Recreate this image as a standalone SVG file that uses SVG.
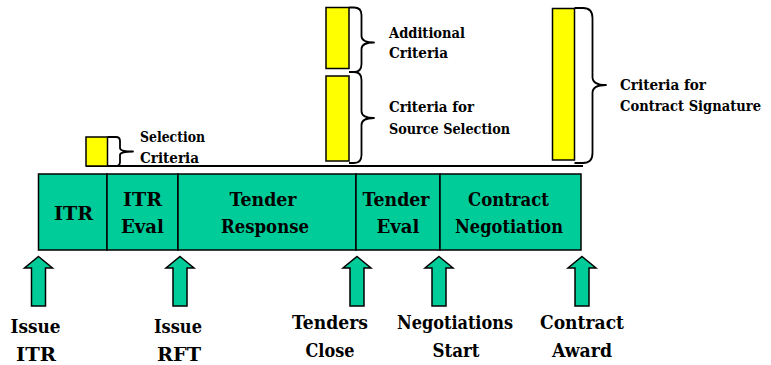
<svg xmlns="http://www.w3.org/2000/svg" width="771" height="365" viewBox="0 0 771 365">
  <style>
    .phase { fill: #00CC99; stroke: #000; stroke-width: 1.5; }
    .crit { fill: #FFFF00; stroke: #000; stroke-width: 1.5; }
    .brace { fill: none; stroke: #000; stroke-width: 1.8; stroke-linejoin: round; }
    .base { stroke: #000; stroke-width: 1.8; }
    .arrow { fill: #00CC99; stroke: #000; stroke-width: 1.5; stroke-linejoin: miter; }
    text { font-family: "DejaVu Serif", "Liberation Serif", serif; font-weight: bold; fill: #000; }
    .big { font-size: 19px; text-anchor: middle; }
    .small { font-size: 15px; }
  </style>

  <!-- baseline under the criteria bars -->
  <line class="base" x1="86" y1="166" x2="583" y2="166"/>

  <!-- criteria bars with braces -->
  <g id="selection-criteria">
    <rect class="crit" x="86" y="137" width="21.5" height="29"/>
    <path class="brace" d="M107.5,137 L116,137 Q120,137 120,141 L120,148 Q120,151.5 133,151.5 Q120,151.5 120,155 L120,162 Q120,166 116,166 L107.5,166"/>
    <text class="small" x="140" y="142" textLength="65" lengthAdjust="spacingAndGlyphs">Selection</text>
    <text class="small" x="140" y="163" textLength="59" lengthAdjust="spacingAndGlyphs">Criteria</text>
  </g>

  <g id="additional-criteria">
    <rect class="crit" x="326" y="7.5" width="23" height="61"/>
    <path class="brace" d="M349,7.5 L354,7.5 Q361.5,7.5 361.5,15 L361.5,36 Q361.5,42.5 374,42.5 Q361.5,42.5 361.5,49 L361.5,64 Q361.5,72 354,72 L349,72"/>
    <text class="small" x="389" y="38" textLength="76" lengthAdjust="spacingAndGlyphs">Additional</text>
    <text class="small" x="389" y="58" textLength="59" lengthAdjust="spacingAndGlyphs">Criteria</text>
  </g>

  <g id="source-selection-criteria">
    <rect class="crit" x="326" y="76" width="23" height="85"/>
    <path class="brace" d="M349,72 L354,72 Q361.5,72 361.5,80 L361.5,111 Q361.5,118 374,118 Q361.5,118 361.5,125 L361.5,155 Q361.5,163 354,163 L349,163"/>
    <text class="small" x="389" y="112" textLength="85" lengthAdjust="spacingAndGlyphs">Criteria for</text>
    <text class="small" x="389" y="133.5" textLength="121" lengthAdjust="spacingAndGlyphs">Source Selection</text>
  </g>

  <g id="contract-signature-criteria">
    <rect class="crit" x="552.5" y="8.5" width="22" height="151.5"/>
    <path class="brace" d="M574.5,8 L583,8 Q592.5,8 592.5,18 L592.5,77 Q592.5,85 606,85 Q592.5,85 592.5,93 L592.5,153 Q592.5,163 583,163 L574.5,163"/>
    <text class="small" x="620" y="90" textLength="86" lengthAdjust="spacingAndGlyphs">Criteria for</text>
    <text class="small" x="620" y="110.5" textLength="141" lengthAdjust="spacingAndGlyphs">Contract Signature</text>
  </g>

  <!-- procurement phases -->
  <g id="phase-itr">
    <rect class="phase" x="38.5" y="174" width="68.5" height="76"/>
    <text class="big" x="73.5" y="220" textLength="39" lengthAdjust="spacingAndGlyphs">ITR</text>
  </g>
  <g id="phase-itr-eval">
    <rect class="phase" x="107" y="174" width="71" height="76"/>
    <text class="big" x="142.5" y="206" textLength="39" lengthAdjust="spacingAndGlyphs">ITR</text>
    <text class="big" x="142.5" y="233" textLength="43" lengthAdjust="spacingAndGlyphs">Eval</text>
  </g>
  <g id="phase-tender-response">
    <rect class="phase" x="178" y="174" width="178" height="76"/>
    <text class="big" x="263" y="206" textLength="67" lengthAdjust="spacingAndGlyphs">Tender</text>
    <text class="big" x="265" y="233" textLength="88" lengthAdjust="spacingAndGlyphs">Response</text>
  </g>
  <g id="phase-tender-eval">
    <rect class="phase" x="356" y="174" width="84" height="76"/>
    <text class="big" x="396" y="206" textLength="67" lengthAdjust="spacingAndGlyphs">Tender</text>
    <text class="big" x="398" y="233" textLength="43" lengthAdjust="spacingAndGlyphs">Eval</text>
  </g>
  <g id="phase-contract-negotiation">
    <rect class="phase" x="440" y="174" width="141" height="76"/>
    <text class="big" x="508.5" y="206" textLength="81" lengthAdjust="spacingAndGlyphs">Contract</text>
    <text class="big" x="509" y="233" textLength="108" lengthAdjust="spacingAndGlyphs">Negotiation</text>
  </g>

  <!-- milestone arrows -->
  <g id="milestones">
    <g id="issue-itr">
      <polygon class="arrow" points="38.5,256.5 52.5,268 45.5,268 45.5,306 31.5,306 31.5,268 24.5,268"/>
      <text class="big" x="35.5" y="333" textLength="50" lengthAdjust="spacingAndGlyphs">Issue</text>
      <text class="big" x="36" y="361" textLength="40" lengthAdjust="spacingAndGlyphs">ITR</text>
    </g>
    <g id="issue-rft">
      <polygon class="arrow" points="180,256.5 194,268 187,268 187,306 173,306 173,268 166,268"/>
      <text class="big" x="178" y="333" textLength="48" lengthAdjust="spacingAndGlyphs">Issue</text>
      <text class="big" x="179" y="361" textLength="44" lengthAdjust="spacingAndGlyphs">RFT</text>
    </g>
    <g id="tenders-close">
      <polygon class="arrow" points="357,256.5 371,268 364,268 364,306 350,306 350,268 343,268"/>
      <text class="big" x="330" y="328.5" textLength="76" lengthAdjust="spacingAndGlyphs">Tenders</text>
      <text class="big" x="330" y="356.5" textLength="49" lengthAdjust="spacingAndGlyphs">Close</text>
    </g>
    <g id="negotiations-start">
      <polygon class="arrow" points="439,256.5 453,268 446,268 446,306 432,306 432,268 425,268"/>
      <text class="big" x="455" y="328.5" textLength="116" lengthAdjust="spacingAndGlyphs">Negotiations</text>
      <text class="big" x="456" y="356.5" textLength="47" lengthAdjust="spacingAndGlyphs">Start</text>
    </g>
    <g id="contract-award">
      <polygon class="arrow" points="582,256.5 596,268 589,268 589,306 575,306 575,268 568,268"/>
      <text class="big" x="582" y="328.5" textLength="84" lengthAdjust="spacingAndGlyphs">Contract</text>
      <text class="big" x="582" y="356.5" textLength="60" lengthAdjust="spacingAndGlyphs">Award</text>
    </g>
  </g>
</svg>
